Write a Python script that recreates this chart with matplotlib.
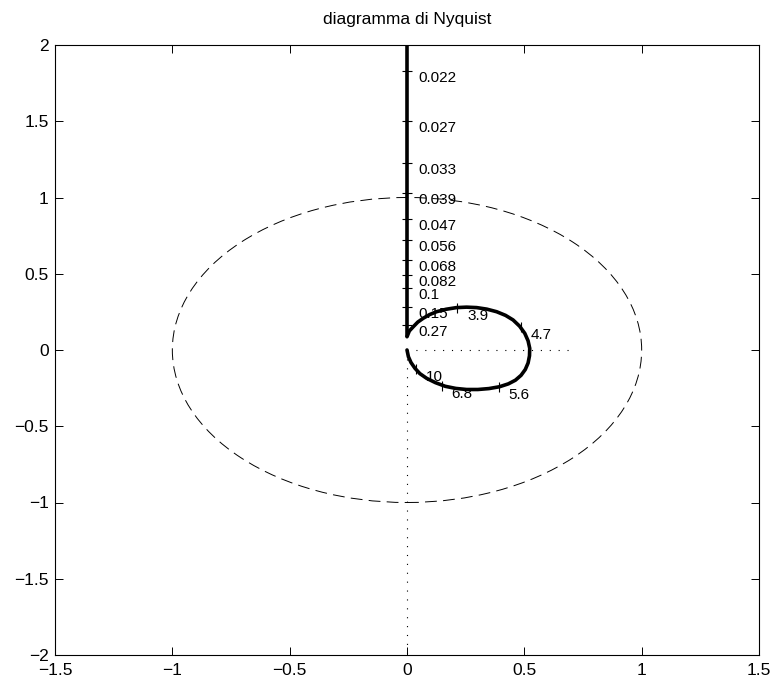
import numpy as np
import matplotlib
matplotlib.use("Agg")
import matplotlib.pyplot as plt
from matplotlib.patches import Circle

plt.rcParams['font.family'] = ['Liberation Sans', 'DejaVu Sans']
plt.rcParams['lines.scale_dashes'] = False

# === Nyquist curve read off the picture (real, imag) ===
# low-frequency branch running down the imaginary axis
branch_re = [0.0, 0.0]
branch_im = [2.0, 0.087]
# the loop, from the corner near the origin, clockwise back to the origin
loop_re = [0.000, 0.010, 0.027, 0.046, 0.069, 0.096, 0.126, 0.166, 0.211, 0.254, 0.297,
           0.340, 0.382, 0.420, 0.452, 0.480, 0.502, 0.516, 0.523, 0.522, 0.516, 0.504,
           0.486, 0.462, 0.432, 0.394, 0.349, 0.302, 0.254, 0.208, 0.163, 0.121, 0.084,
           0.055, 0.034, 0.017, 0.006, 0.000]
loop_im = [0.087, 0.125, 0.153, 0.183, 0.208, 0.232, 0.251, 0.267, 0.278, 0.281, 0.278,
           0.268, 0.251, 0.227, 0.197, 0.156, 0.109, 0.060, 0.011, -0.038, -0.085, -0.128,
           -0.166, -0.198, -0.222, -0.241, -0.253, -0.259, -0.259, -0.252, -0.238, -0.214,
           -0.186, -0.155, -0.120, -0.082, -0.044, 0.000]

# === frequency markers (rad/s) and where they sit on the curve ===
branch_tick_labels = ['0.022', '0.027', '0.033', '0.039', '0.047', '0.056',
                      '0.068', '0.082', '0.1', '0.15', '0.27']
branch_tick_im = [1.83, 1.50, 1.224, 1.027, 0.857, 0.72, 0.59, 0.49, 0.406, 0.284, 0.164]

loop_tick_labels = ['3.9', '4.7', '5.6', '6.8', '10']
loop_tick_re = [0.214, 0.484, 0.390, 0.148, 0.038]
loop_tick_im = [0.278, 0.150, -0.240, -0.234, -0.122]

fig = plt.figure(figsize=(7.73, 6.80), dpi=100)
ax = fig.add_axes([55 / 773, 25 / 680, 704 / 773, 610 / 680])

# unit circle
ax.add_patch(Circle((0, 0), 1.0, fill=False, edgecolor='black', linewidth=0.7,
                    linestyle=(0, (8.5, 4.5))))

# dotted axes through the origin
dot = (0, (0.8, 5.6))
ax.plot([0, 0.7], [0, 0], color='black', linewidth=0.8, linestyle=dot)
ax.plot([0, 0], [0, -2], color='black', linewidth=0.8, linestyle=dot)

# Nyquist curve
ax.plot(branch_re, branch_im, color='black', linewidth=2.6, solid_capstyle='butt')
ax.plot(loop_re, loop_im, color='black', linewidth=2.6, solid_joinstyle='round',
        solid_capstyle='round')

# frequency ticks and labels
ax.plot([0] * len(branch_tick_im), branch_tick_im, linestyle='none', marker='_',
        markersize=7, markeredgewidth=0.8, color='black')
ax.plot(loop_tick_re, loop_tick_im, linestyle='none', marker='|',
        markersize=7, markeredgewidth=0.8, color='black')
for lab, yv in zip(branch_tick_labels, branch_tick_im):
    ax.annotate(lab, (0, yv), xytext=(11, -7), textcoords='offset pixels',
                ha='left', va='center', fontsize=11)
for lab, xv, yv in zip(loop_tick_labels, loop_tick_re, loop_tick_im):
    ax.annotate(lab, (xv, yv), xytext=(10, -8), textcoords='offset pixels',
                ha='left', va='center', fontsize=11)

ax.set_xlim(-1.5, 1.5)
ax.set_ylim(-2, 2)
ax.set_xticks([-1.5, -1, -0.5, 0, 0.5, 1, 1.5])
ax.set_xticklabels(['\u22121.5', '\u22121', '\u22120.5', '0', '0.5', '1', '1.5'])
ax.set_yticks([-2, -1.5, -1, -0.5, 0, 0.5, 1, 1.5, 2])
ax.set_yticklabels(['\u22122', '\u22121.5', '\u22121', '\u22120.5', '0', '0.5', '1', '1.5', '2'])
ax.tick_params(direction='in', length=5.5, width=0.7, top=True, right=True,
               labelsize=12.5)
ax.tick_params(axis='x', pad=6)
ax.tick_params(axis='y', pad=4.5)
for sp in ax.spines.values():
    sp.set_linewidth(0.8)

ax.set_title('diagramma di Nyquist', fontsize=12.5, pad=15)

fig.savefig('out.png', dpi=100)
